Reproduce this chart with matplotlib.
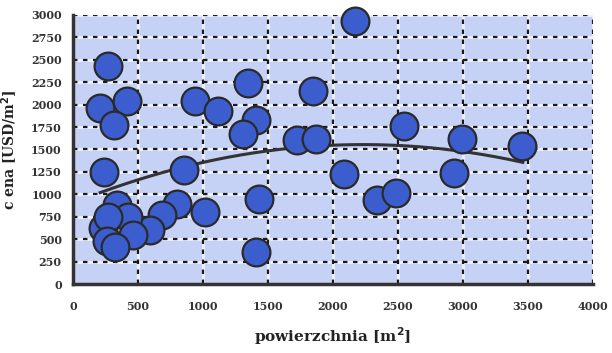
import numpy as np
import matplotlib
matplotlib.use("Agg")
import matplotlib.pyplot as plt

# data
area = [2169, 269, 208, 415, 315, 238, 938, 1115, 1346, 1408, 1308, 1846, 1723, 1869,
        854, 2085, 2546, 2992, 3454, 2931, 2338, 2485, 1431, 1408, 1015, 800, 685, 592,
        231, 338, 423, 269, 462, 262, 323]
price = [2930, 2430, 1962, 2040, 1773, 1249, 2040, 1929, 2240, 1828, 1672, 2150, 1605, 1616,
         1271, 1226, 1761, 1616, 1538, 1237, 936, 1014, 947, 357, 803, 892, 769, 602,
         624, 881, 747, 747, 546, 479, 412]
trend_x = [210, 460, 850, 1350, 1750, 1900, 2400, 2950, 3460]
trend_y = [1025, 1160, 1270, 1450, 1527, 1555, 1550, 1494, 1349]

xticks = [0, 500, 1000, 1500, 2000, 2500, 3000, 3500, 4000]
yticks = [0, 250, 500, 750, 1000, 1250, 1500, 1750, 2000, 2250, 2500, 2750, 3000]

fig = plt.figure(figsize=(6.12, 3.53), dpi=100)
ax = fig.add_axes([0.119, 0.195, 0.850, 0.763])
ax.set_facecolor("#c6d1f6")

ax.set_xlim(0, 4000)
ax.set_ylim(0, 3000)
ax.set_xticks(xticks)
ax.set_yticks(yticks)

# grid: light band with dark dashes
for v in yticks[1:]:
    ax.axhline(v, color="#eef1fc", lw=2.0, zorder=1)
    ax.axhline(v, color="#1a1a1a", lw=1.6, ls=(0, (2, 2.5)), zorder=1.5)
for v in xticks[1:]:
    ax.axvline(v, color="#eef1fc", lw=2.0, zorder=1)
    ax.axvline(v, color="#1a1a1a", lw=1.6, ls=(0, (2, 2.5)), zorder=1.5)

coef = np.polyfit(trend_x, trend_y, 2)
xx = np.linspace(trend_x[0], trend_x[-1], 200)
ax.plot(xx, np.polyval(coef, xx), color="#333333", lw=2.2, zorder=2)

ax.scatter(area, price, s=400, facecolor="#3c5dcd", edgecolor="#2a2a2a", linewidth=1.6,
           zorder=3, clip_on=False)

for s in ["top", "right"]:
    ax.spines[s].set_visible(False)
for s in ["left", "bottom"]:
    ax.spines[s].set_linewidth(2.5)
    ax.spines[s].set_color("#333333")

ax.tick_params(length=0, pad=8, labelsize=8)
for lab in ax.get_xticklabels() + ax.get_yticklabels():
    lab.set_fontfamily("DejaVu Serif")
    lab.set_fontweight("bold")
    lab.set_color("#333333")
ax.tick_params(axis="x", pad=12)

ax.set_xlabel("powierzchnia [m$^\\mathbf{2}$]", fontfamily="DejaVu Serif", fontweight="bold",
              fontsize=11, labelpad=10, color="#222222")
ax.set_ylabel("c ena [USD/m$^\\mathbf{2}$]", fontfamily="DejaVu Serif", fontweight="bold",
              fontsize=10, labelpad=8, color="#222222")

fig.savefig("out.png", dpi=100)
